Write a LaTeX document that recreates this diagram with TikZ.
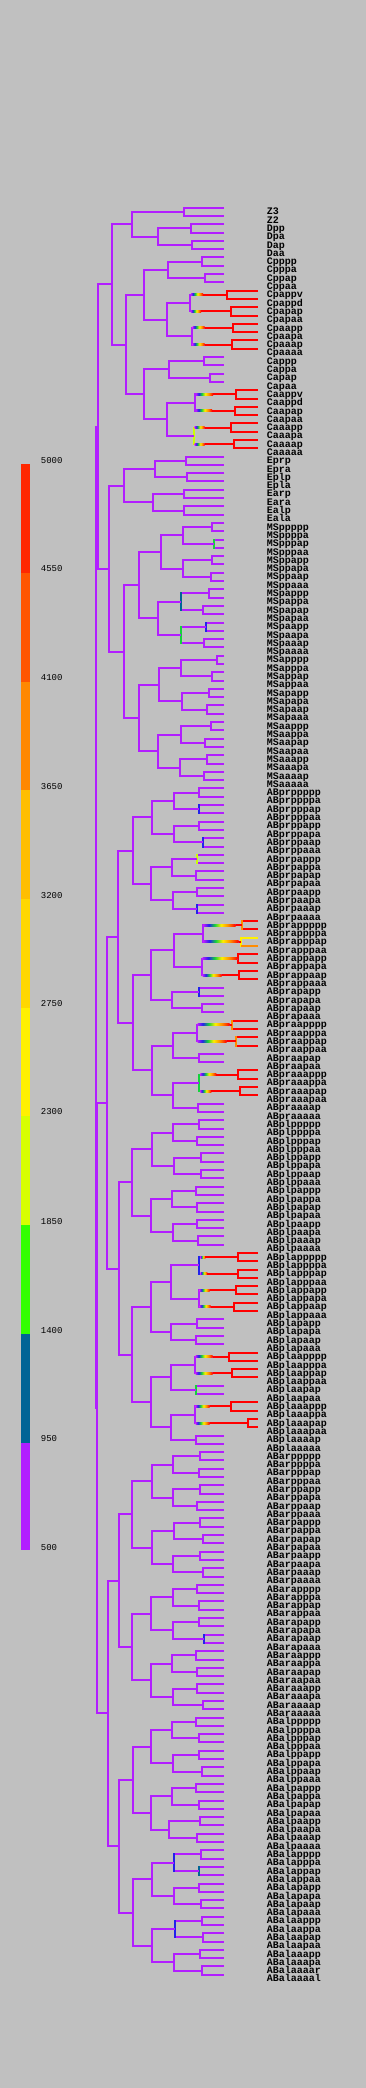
\documentclass[tikz,border=0pt]{standalone}
\usepackage{fontspec}
\setmonofont{Liberation Mono}
\usetikzlibrary{calc}

\definecolor{bg}{RGB}{192,192,192}
\definecolor{vio}{RGB}{178,30,255}
\definecolor{blu}{RGB}{34,34,235}
\definecolor{tea}{RGB}{0,100,150}
\definecolor{grn}{RGB}{20,210,60}
\definecolor{ylg}{RGB}{205,255,0}
\definecolor{yel}{RGB}{255,240,0}
\definecolor{org}{RGB}{255,140,0}
\definecolor{k1}{RGB}{255,40,0}
\definecolor{k2}{RGB}{255,85,0}
\definecolor{k3}{RGB}{255,136,0}
\definecolor{k4}{RGB}{255,190,0}
\definecolor{k5}{RGB}{255,215,0}
\definecolor{k6}{RGB}{255,240,0}
\definecolor{k7}{RGB}{215,255,0}
\definecolor{k8}{RGB}{50,255,0}
\definecolor{k9}{RGB}{0,100,150}

\pgfdeclarehorizontalshading{heat}{100bp}{color(0bp)=(vio); color(25bp)=(vio); color(33bp)=(blu); color(42bp)=(grn); color(52bp)=(yel); color(63bp)=(org); color(75bp)=(red); color(100bp)=(red)}

% {h colour}{v colour}{name}{x}{upper}{lower}
\newcommand{\anyfork}[6]{%
  \path (#5) -- (#6) coordinate[pos=.5] (m#3);
  \coordinate (#3) at (#4,0 |- m#3);
  \draw[branch,#1] (#5) -| (#3) |- (#6);
  \draw[branch,#2,line cap=rect] (#3 |- #5) -- (#3 |- #6);}
\newcommand{\dfork}[5][vio]{\anyfork{vio}{#1}{#2}{#3}{#4}{#5}}
\newcommand{\pafork}[3][vio]{\anyfork{vio}{#1}{#2}{#3}{#2p}{#2a}}
\newcommand{\redfork}[5][red]{%
  \coordinate (#4) at (257.7,0 |- #4);
  \coordinate (#5) at (257.7,0 |- #5);
  \anyfork{red}{#1}{#2}{#3}{#4}{#5}}
\newcommand{\redpa}[3][red]{\redfork[#1]{#2}{#3}{#2p}{#2a}}
% {parent}{child}{ramp length}
\newcommand{\ramp}[3]{%
  \coordinate (r#2) at (#1 |- #2);
  \shade[shading=heat] ($(r#2)+(1,-1)$) rectangle ($(r#2)+(#3,1)$);
  \draw[branch,red] ($(r#2)+(#3,0)$) -- (#2);}

\begin{document}
\begin{tikzpicture}[x=1pt, y=-1pt,
    branch/.style={line width=2pt, vio},
    lab/.style={anchor=base west, inner sep=0pt, font=\ttfamily\bfseries\fontsize{10}{10}\selectfont},
    key/.style={anchor=west, inner sep=0pt, font=\ttfamily\fontsize{9}{9}\selectfont}
]
\fill[bg] (0,0) rectangle (366,2088);
\useasboundingbox (0,0) rectangle (366,2088);

% colour key
\foreach \c/\ya/\yb in {k1/464/572.8, k2/572.8/682.2, k3/682.2/790.3, k4/790.3/899, k5/899/1007.8,
    k6/1007.8/1115.8, k7/1115.8/1225.3, k8/1225.3/1334, k9/1334/1442.8, vio/1442.8/1550}
  \fill[\c] (21,\ya) rectangle (30,\yb);
\foreach \v/\yy in {5000/460.3, 4550/569, 4100/677.8, 3650/786.6, 3200/895.3, 2750/1003.3,
    2300/1112, 1850/1221.6, 1400/1330.3, 950/1438.3, 500/1547.1}
  \node[key] (k\v) at (40.7,\yy) {\v};

% leaves
\foreach \nm [count=\i from 0] in {Z3,Z2,Dpp,Dpa,Dap,Daa,
    Cpppp,Cpppa,Cppap,Cppaa,Cpappv,Cpappd,Cpapap,Cpapaa,Cpaapp,Cpaapa,Cpaaap,Cpaaaa,
    Cappp,Cappa,Capap,Capaa,Caappv,Caappd,Caapap,Caapaa,Caaapp,Caaapa,Caaaap,Caaaaa,
    Eprp,Epra,Eplp,Epla,Earp,Eara,Ealp,Eala,
    MSppppp,MSppppa,MSpppap,MSpppaa,MSppapp,MSppapa,MSppaap,MSppaaa,
    MSpappp,MSpappa,MSpapap,MSpapaa,MSpaapp,MSpaapa,MSpaaap,MSpaaaa,
    MSapppp,MSapppa,MSappap,MSappaa,MSapapp,MSapapa,MSapaap,MSapaaa,
    MSaappp,MSaappa,MSaapap,MSaapaa,MSaaapp,MSaaapa,MSaaaap,MSaaaaa,
    ABprppppp,ABprppppa,ABprpppap,ABprpppaa,ABprppapp,ABprppapa,ABprppaap,ABprppaaa,
    ABprpappp,ABprpappa,ABprpapap,ABprpapaa,ABprpaapp,ABprpaapa,ABprpaaap,ABprpaaaa,
    ABprappppp,ABprappppa,ABprapppap,ABprapppaa,ABprappapp,ABprappapa,ABprappaap,ABprappaaa,
    ABprapapp,ABprapapa,ABprapaap,ABprapaaa,
    ABpraapppp,ABpraapppa,ABpraappap,ABpraappaa,ABpraapap,ABpraapaa,
    ABpraaappp,ABpraaappa,ABpraaapap,ABpraaapaa,ABpraaaap,ABpraaaaa,
    ABplppppp,ABplppppa,ABplpppap,ABplpppaa,ABplppapp,ABplppapa,ABplppaap,ABplppaaa,
    ABplpappp,ABplpappa,ABplpapap,ABplpapaa,ABplpaapp,ABplpaapa,ABplpaaap,ABplpaaaa,
    ABplappppp,ABplappppa,ABplapppap,ABplapppaa,ABplappapp,ABplappapa,ABplappaap,ABplappaaa,
    ABplapapp,ABplapapa,ABplapaap,ABplapaaa,
    ABplaapppp,ABplaapppa,ABplaappap,ABplaappaa,ABplaapap,ABplaapaa,
    ABplaaappp,ABplaaappa,ABplaaapap,ABplaaapaa,ABplaaaap,ABplaaaaa,
    ABarppppp,ABarppppa,ABarpppap,ABarpppaa,ABarppapp,ABarppapa,ABarppaap,ABarppaaa,
    ABarpappp,ABarpappa,ABarpapap,ABarpapaa,ABarpaapp,ABarpaapa,ABarpaaap,ABarpaaaa,
    ABarapppp,ABarapppa,ABarappap,ABarappaa,ABarapapp,ABarapapa,ABarapaap,ABarapaaa,
    ABaraappp,ABaraappa,ABaraapap,ABaraapaa,ABaraaapp,ABaraaapa,ABaraaaap,ABaraaaaa,
    ABalppppp,ABalppppa,ABalpppap,ABalpppaa,ABalppapp,ABalppapa,ABalppaap,ABalppaaa,
    ABalpappp,ABalpappa,ABalpapap,ABalpapaa,ABalpaapp,ABalpaapa,ABalpaaap,ABalpaaaa,
    ABalapppp,ABalapppa,ABalappap,ABalappaa,ABalapapp,ABalapapa,ABalapaap,ABalapaaa,
    ABalaappp,ABalaappa,ABalaapap,ABalaapaa,ABalaaapp,ABalaaapa,ABalaaaar,ABalaaaal}{
  \coordinate (\nm) at (224,207.7+8.296*\i);
  \node[lab] (t\nm) at (266.7,214.9+8.296*\i) {\nm};
}

% P lineage, D, C, E, MS
\dfork{P4}{183.7}{Z3}{Z2}
\pafork{Dp}{191} \pafork{Da}{191.7} \pafork{D}{158.3}
\dfork{P3}{131.7}{P4}{D}
\pafork{Cppp}{201.7} \pafork{Cppa}{205} \pafork{Cpp}{168.3}
\redfork{Cpapp}{227}{Cpappv}{Cpappd} \redpa{Cpapa}{230.7} \pafork{Cpap}{190}
\redpa{Cpaap}{232.7} \redpa{Cpaaa}{231.7} \pafork{Cpaa}{191.7}
\pafork{Cpa}{166.7} \pafork{Cp}{144}
\pafork{Capp}{204} \pafork{Capa}{210} \pafork{Cap}{169.3}
\redfork{Caapp}{236}{Caappv}{Caappd} \redpa{Caapa}{234.7} \pafork{Caap}{195}
\redpa{Caaap}{230.7} \redpa{Caaaa}{233.7} \pafork[ylg]{Caaa}{193.7}
\pafork{Caa}{166.7} \pafork{Ca}{144} \pafork{C}{125.7}
\dfork{P2}{112.3}{P3}{C}
\pafork{Epr}{186} \pafork{Epl}{186.7} \dfork{Ep}{155}{Epr}{Epl}
\pafork{Ear}{184.3} \pafork{Eal}{183.7} \dfork{Ea}{153.3}{Ear}{Eal}
\pafork{E}{124}
\pafork{MSpppp}{211.7} \pafork[grn]{MSpppa}{214.3} \pafork{MSppp}{182.7}
\pafork{MSppap}{211.7} \pafork{MSppaa}{210.7} \pafork{MSppa}{182.7} \pafork{MSpp}{160.7}
\pafork{MSpapp}{208.7} \pafork{MSpapa}{202.7} \pafork[tea]{MSpap}{180.7}
\pafork[blu]{MSpaap}{206.3} \pafork{MSpaaa}{203.7} \pafork[grn]{MSpaa}{180.7}
\pafork{MSpa}{158.3} \pafork{MSp}{139.3}
\pafork{MSappp}{216.7} \pafork{MSappa}{211.7} \pafork{MSapp}{180.7}
\pafork{MSapap}{208.7} \pafork{MSapaa}{207.3} \pafork{MSapa}{181.7} \pafork{MSap}{159.3}
\pafork{MSaapp}{210.7} \pafork{MSaapa}{204.7} \pafork{MSaap}{180.7}
\pafork{MSaaap}{206.7} \pafork{MSaaaa}{203.7} \pafork{MSaaa}{179.7}
\pafork{MSaa}{157.7} \pafork{MSa}{139.3} \pafork{MS}{124}
\dfork{EMS}{109.3}{E}{MS}
\dfork{P1}{98.3}{P2}{EMS}

% ABpr
\pafork{ABprpppp}{199.3} \pafork[blu]{ABprpppa}{199.3} \pafork{ABprppp}{173.7}
\pafork{ABprppap}{199.3} \pafork[blu]{ABprppaa}{202.7} \pafork{ABprppa}{173.7} \pafork{ABprpp}{151.7}
\pafork[ylg]{ABprpapp}{197.3} \pafork{ABprpapa}{196.3} \pafork{ABprpap}{171.7}
\pafork{ABprpaap}{197.3} \pafork[blu]{ABprpaaa}{197.3} \pafork{ABprpaa}{172.7}
\pafork{ABprpa}{150.7} \pafork{ABprp}{132.7}
\redpa[org]{ABprapppp}{241.7} \redpa[yel]{ABprapppa}{240.7} \pafork{ABprappp}{202.7}
\redpa{ABprappap}{237.7} \redpa{ABprappaa}{239.3} \pafork{ABprappa}{201.7} \pafork{ABprapp}{173.7}
\pafork[blu]{ABprapap}{199.3} \pafork{ABprapaa}{201.7} \pafork{ABprapa}{171.7} \pafork{ABprap}{150.7}
\redpa[org]{ABpraappp}{231.7} \redpa[org]{ABpraappa}{235.7} \pafork{ABpraapp}{196.7}
\pafork{ABpraapa}{199.3} \pafork{ABpraap}{172.7}
\redpa{ABpraaapp}{237.7} \redpa{ABpraaapa}{240} \pafork[grn]{ABpraaap}{199.3}
\pafork{ABpraaaa}{198.3} \pafork{ABpraaa}{172.7} \pafork{ABpraa}{151.7}
\pafork{ABpra}{132.7} \pafork{ABpr}{118.3}

% ABpl
\pafork{ABplpppp}{198.7} \pafork{ABplpppa}{197.3} \pafork{ABplppp}{172.7}
\pafork{ABplppap}{201} \pafork{ABplppaa}{201} \pafork{ABplppa}{173.7} \pafork{ABplpp}{151.7}
\pafork{ABplpapp}{195.7} \pafork{ABplpapa}{196.7} \pafork{ABplpap}{171.7}
\pafork{ABplpaap}{196.7} \pafork{ABplpaaa}{197.7} \pafork{ABplpaa}{172.7}
\pafork{ABplpa}{150.7} \pafork{ABplp}{131.7}
\redpa{ABplapppp}{237.7} \redpa{ABplapppa}{237.7} \pafork[blu]{ABplappp}{199.3}
\redpa{ABplappap}{235.7} \redpa{ABplappaa}{233.7} \pafork{ABplappa}{198.7} \pafork{ABplapp}{171}
\pafork{ABplapap}{196.7} \pafork{ABplapaa}{195.7} \pafork{ABplapa}{171} \pafork{ABplap}{150.7}
\redpa{ABplaappp}{228.7} \redpa{ABplaappa}{231.7} \pafork{ABplaapp}{194.7}
\pafork[grn]{ABplaapa}{195.7} \pafork{ABplaap}{171}
\redpa{ABplaaapp}{230.7} \redpa{ABplaaapa}{247.7} \pafork{ABplaaap}{194.7}
\pafork{ABplaaaa}{195.7} \pafork{ABplaaa}{171} \pafork{ABplaa}{150.7}
\pafork{ABpla}{131.7} \pafork{ABpl}{118.7}
\dfork{ABp}{107.3}{ABpr}{ABpl}

% ABar
\pafork{ABarpppp}{199.7} \pafork{ABarpppa}{198.7} \pafork{ABarppp}{172.7}
\pafork{ABarppap}{199.7} \pafork{ABarppaa}{197.3} \pafork{ABarppa}{172.7} \pafork{ABarpp}{151.7}
\pafork{ABarpapp}{199.7} \pafork{ABarpapa}{202.7} \pafork{ABarpap}{173.7}
\pafork{ABarpaap}{199.7} \pafork{ABarpaaa}{202.7} \pafork{ABarpaa}{172.7}
\pafork{ABarpa}{151.7} \pafork{ABarp}{131.7}
\pafork{ABarappp}{197.3} \pafork{ABarappa}{199.3} \pafork{ABarapp}{172.7}
\pafork{ABarapap}{199.3} \pafork[blu]{ABarapaa}{204.3} \pafork{ABarapa}{172.7} \pafork{ABarap}{150.7}
\pafork{ABaraapp}{195.7} \pafork{ABaraapa}{196.7} \pafork{ABaraap}{171.7}
\pafork{ABaraaap}{196.7} \pafork{ABaraaaa}{202.7} \pafork{ABaraaa}{172.7}
\pafork{ABaraa}{150.7} \pafork{ABara}{131.7} \pafork{ABar}{119.3}

% ABal
\pafork{ABalpppp}{196.3} \pafork{ABalpppa}{198.7} \pafork{ABalppp}{171.7}
\pafork{ABalppap}{198.7} \pafork{ABalppaa}{201.7} \pafork{ABalppa}{172.7} \pafork{ABalpp}{150.7}
\pafork{ABalpapp}{195.7} \pafork{ABalpapa}{198.7} \pafork{ABalpap}{171.7}
\pafork{ABalpaap}{199.7} \pafork{ABalpaaa}{196.7} \pafork{ABalpaa}{169.3}
\pafork{ABalpa}{150.7} \pafork{ABalp}{132.7}
\pafork{ABalappp}{200.7} \pafork[tea]{ABalappa}{199.3} \pafork[blu]{ABalapp}{174}
\pafork{ABalapap}{198.7} \pafork{ABalapaa}{200.7} \pafork{ABalapa}{173.7} \pafork{ABalap}{151.7}
\pafork{ABalaapp}{201.7} \pafork{ABalaapa}{202.7} \pafork[blu]{ABalaap}{174.7}
\pafork{ABalaaap}{199.7} \dfork{ABalaaaa}{201.7}{ABalaaaar}{ABalaaaal} \pafork{ABalaaa}{173.7}
\pafork{ABalaa}{151.7} \pafork{ABala}{132.7} \pafork{ABal}{119.3}
\dfork{ABa}{108.3}{ABar}{ABal}
\dfork{AB}{97}{ABp}{ABa}
\dfork{P0}{95.7}{P1}{AB}

% colour ramps into the late divisions
\ramp{Cpap}{Cpapp}{13} \ramp{Cpap}{Cpapa}{11}
\ramp{Cpaa}{Cpaap}{13} \ramp{Cpaa}{Cpaaa}{13}
\ramp{Caap}{Caapp}{18} \ramp{Caap}{Caapa}{17}
\ramp{Caaa}{Caaap}{11} \ramp{Caaa}{Caaaa}{11}
\ramp{ABprappp}{ABprapppp}{33} \ramp{ABprappp}{ABprapppa}{36}
\ramp{ABprappa}{ABprappap}{36} \ramp{ABprappa}{ABprappaa}{20}
\ramp{ABpraapp}{ABpraappp}{33} \ramp{ABpraapp}{ABpraappa}{30}
\ramp{ABpraaap}{ABpraaapp}{17} \ramp{ABpraaap}{ABpraaapa}{12}
\ramp{ABplappp}{ABplapppp}{6} \ramp{ABplappp}{ABplapppa}{8}
\ramp{ABplappa}{ABplappap}{11} \ramp{ABplappa}{ABplappaa}{12}
\ramp{ABplaapp}{ABplaappp}{18} \ramp{ABplaapp}{ABplaappa}{18}
\ramp{ABplaaap}{ABplaaapp}{15} \ramp{ABplaaap}{ABplaaapa}{15}
\draw[branch,yel] (ABprapppa |- ABprapppap) -- (ABprapppap);
\draw[branch,org] (ABprapppa |- ABprapppaa) -- (ABprapppaa);
\end{tikzpicture}
\end{document}
